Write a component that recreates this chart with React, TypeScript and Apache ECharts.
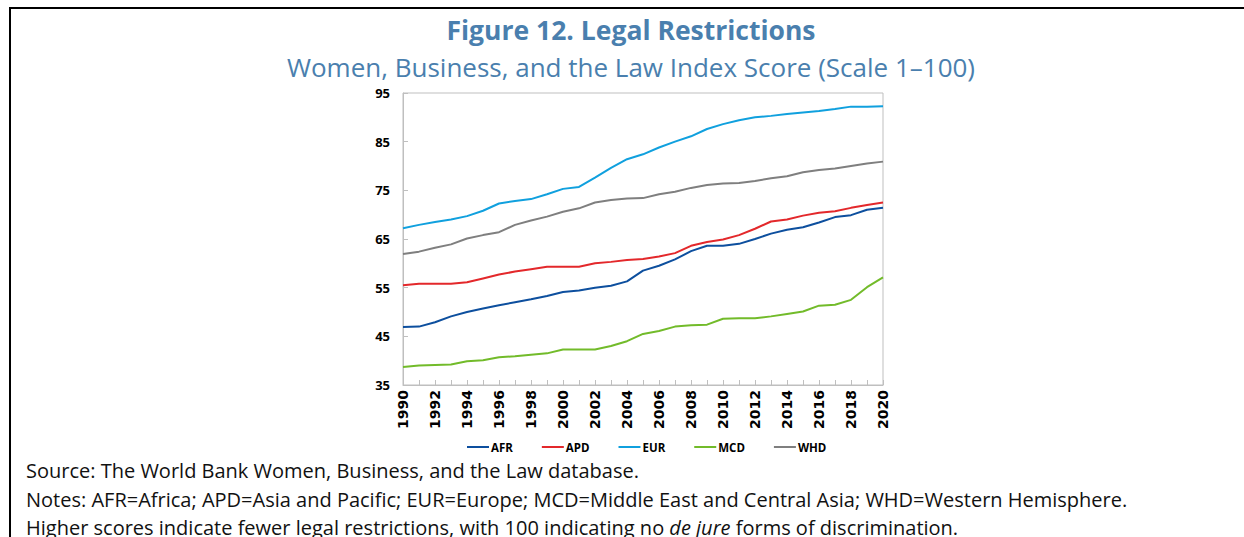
import React, { useEffect, useRef } from "react";
import * as echarts from "echarts";

const years = Array.from({ length: 31 }, (_, i) => String(1990 + i));

const AFR = [46.9, 47.0, 47.9, 49.1, 50.0, 50.7, 51.4, 52.0, 52.6, 53.3, 54.1, 54.4, 55.0, 55.4, 56.3, 58.5, 59.5, 60.8, 62.5, 63.6, 63.6, 64.0, 65.0, 66.1, 66.9, 67.4, 68.4, 69.5, 69.9, 71.0, 71.4];
const APD = [55.5, 55.8, 55.8, 55.8, 56.1, 56.9, 57.7, 58.3, 58.8, 59.3, 59.3, 59.3, 60.0, 60.3, 60.7, 60.9, 61.4, 62.1, 63.6, 64.4, 64.9, 65.8, 67.1, 68.6, 69.0, 69.8, 70.4, 70.7, 71.4, 72.0, 72.5];
const EUR = [67.2, 67.9, 68.5, 69.0, 69.7, 70.8, 72.3, 72.8, 73.2, 74.2, 75.3, 75.7, 77.6, 79.6, 81.4, 82.4, 83.8, 85.0, 86.1, 87.6, 88.6, 89.4, 90.0, 90.3, 90.7, 91.0, 91.3, 91.7, 92.2, 92.2, 92.3];
const MCD = [38.7, 39.0, 39.1, 39.2, 39.9, 40.1, 40.7, 40.9, 41.2, 41.5, 42.3, 42.3, 42.3, 43.0, 44.0, 45.5, 46.1, 47.0, 47.3, 47.4, 48.6, 48.7, 48.7, 49.1, 49.6, 50.1, 51.3, 51.5, 52.5, 55.1, 57.1];
const WHD = [61.9, 62.4, 63.2, 63.9, 65.1, 65.8, 66.4, 67.9, 68.8, 69.6, 70.6, 71.3, 72.5, 73.0, 73.3, 73.4, 74.2, 74.7, 75.5, 76.1, 76.4, 76.5, 76.9, 77.5, 77.9, 78.7, 79.2, 79.5, 80.0, 80.5, 80.9];

const seriesNames = ["AFR", "APD", "EUR", "MCD", "WHD"];
const seriesData = [AFR, APD, EUR, MCD, WHD];
const seriesColors = ["#0d4f9e", "#e3282b", "#10a0de", "#72bb2a", "#7f7f7f"];

const titleText = "Figure 12. Legal Restrictions";
const subtitleText = "Women, Business, and the Law Index Score (Scale 1\u2013100)";
const sourceText = "Source: The World Bank Women, Business, and the Law database.";
const notesText = "Notes: AFR=Africa; APD=Asia and Pacific; EUR=Europe; MCD=Middle East and Central Asia; WHD=Western Hemisphere.";

const FONT = "'Open Sans', 'Noto Sans', sans-serif";
const XFONT = "'DejaVu Sans', sans-serif";

export default function App() {
  const ref = useRef<HTMLDivElement>(null);
  useEffect(() => {
    if (!ref.current) return;
    const chart = echarts.init(ref.current, null, { renderer: "svg" });
    chart.setOption({
      animation: false,
      backgroundColor: "#ffffff",
      textStyle: { fontFamily: FONT },
      grid: { left: 403, top: 93, right: 361, bottom: 152, show: true, borderColor: "#bfbfbf", borderWidth: 1 },
      legend: {
        top: 436,
        left: 462,
        data: seriesNames,
        icon: "rect",
        itemWidth: 22,
        itemHeight: 2,
        itemGap: 29,
        textStyle: { fontFamily: FONT, fontWeight: "bold", fontSize: 11.5, color: "#000", padding: [0, 0, 0, -3] },
      },
      xAxis: {
        type: "category",
        data: years,
        boundaryGap: false,
        axisLine: { lineStyle: { color: "#bfbfbf" } },
        axisTick: { inside: true, length: 5, interval: 0, lineStyle: { color: "#bfbfbf" } },
        axisLabel: { interval: 1, rotate: 90, fontWeight: "bold", fontSize: 14, color: "#000", margin: 5, fontFamily: XFONT },
        splitLine: { show: false },
      },
      yAxis: {
        type: "value",
        min: 35,
        max: 95,
        interval: 10,
        axisLine: { show: true, lineStyle: { color: "#bfbfbf" } },
        axisTick: { show: true, inside: true, length: 5, lineStyle: { color: "#bfbfbf" } },
        axisLabel: { fontWeight: "bold", fontSize: 13, color: "#000", margin: 13, fontFamily: FONT },
        splitLine: { show: false },
      },
      series: seriesNames.map((n, i) => ({
        name: n,
        type: "line",
        data: seriesData[i],
        showSymbol: false,
        symbol: "none",
        color: seriesColors[i],
        lineStyle: { width: 2, color: seriesColors[i] },
      })),
      graphic: [
        { type: "rect", shape: { x: 10, y: 8, width: 1300, height: 600 }, style: { fill: "none", stroke: "#000", lineWidth: 2 }, silent: true },
        { type: "text", x: 631, y: 30, style: { text: titleText, fontFamily: FONT, fontWeight: "bold", fontSize: 26.5, fill: "#4a7fae", textAlign: "center", textVerticalAlign: "middle" } },
        { type: "text", x: 631, y: 67, style: { text: subtitleText, fontFamily: FONT, fontSize: 26, fill: "#4a7fae", textAlign: "center", textVerticalAlign: "middle" } },
        { type: "text", x: 26, y: 470, style: { text: sourceText, fontFamily: FONT, fontSize: 20, fill: "#111", textVerticalAlign: "middle" } },
        { type: "text", x: 26, y: 499, style: { text: notesText, fontFamily: FONT, fontSize: 20, fill: "#111", textVerticalAlign: "middle" } },
        {
          type: "text", x: 26, y: 527,
          style: {
            text: "Higher scores indicate fewer legal restrictions, with 100 indicating no {i|de jure} forms of discrimination.",
            fontFamily: FONT, fontSize: 20, fill: "#111", textVerticalAlign: "middle",
            rich: { i: { fontFamily: FONT, fontSize: 20, fontStyle: "italic", fill: "#111" } },
          },
        },
      ],
    });
    return () => chart.dispose();
  }, []);
  return <div ref={ref} style={{ position: "fixed", left: 0, top: 0, width: 1244, height: 537 }} />;
}
